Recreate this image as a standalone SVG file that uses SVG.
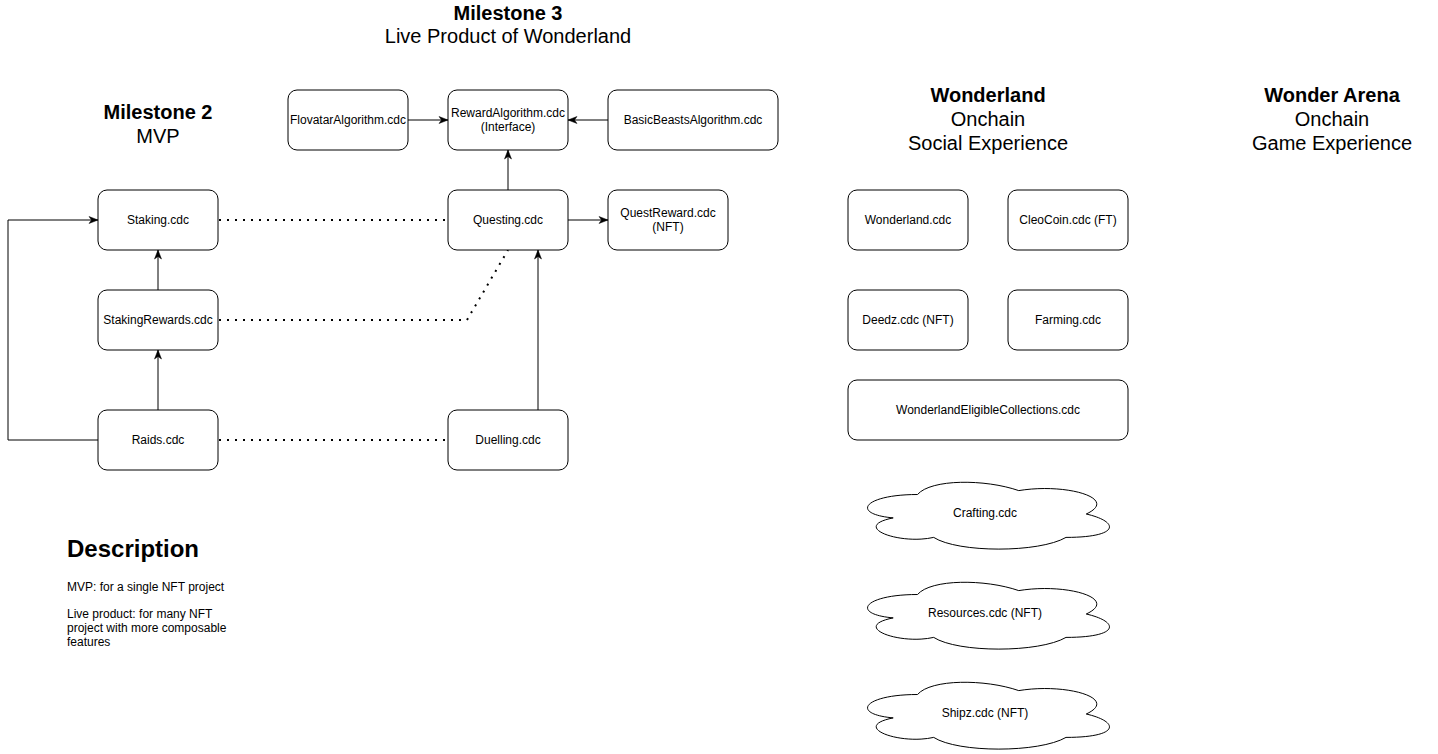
<svg xmlns="http://www.w3.org/2000/svg" xmlns:xlink="http://www.w3.org/1999/xlink" width="1438" height="754" viewBox="0 0 1438 754">
<style>
  .box { fill: #ffffff; stroke: #000000; stroke-width: 1; }
  .t { font-family: "Liberation Sans", Arial, Helvetica, sans-serif; font-size: 12px; fill: #000000; text-anchor: middle; }
  .h { font-family: "Liberation Sans", Arial, Helvetica, sans-serif; font-size: 20px; fill: #000000; text-anchor: middle; }
  .hb { font-weight: bold; }
  .d { font-family: "Liberation Sans", Arial, Helvetica, sans-serif; font-size: 12px; fill: #000000; }
  .arrow { fill: none; stroke: #000000; stroke-width: 1; marker-end: url(#ah); }
  .dot { fill: none; stroke: #000000; stroke-width: 2; stroke-dasharray: 2 6; }
</style>
<defs>
  <marker id="ah" markerUnits="userSpaceOnUse" markerWidth="10" markerHeight="10" viewBox="0 0 10 10" refX="10" refY="5" orient="auto">
    <path d="M1,1.5 L10,5 L1,8.5 L3.5,5 Z" fill="#000000" stroke="#000000" stroke-width="0.5"/>
  </marker>
  <path id="cloud" d="M67.5,19.5 C13.5,19.5 0,39 43.2,42.9 C0,51.48 48.6,70.2 83.7,62.4 C108,78 189,78 216,62.4 C270,62.4 270,46.8 236.25,39 C270,23.4 216,7.8 168.75,15.6 C135,3.9 81,3.9 67.5,19.5 Z" fill="#ffffff" stroke="#000000" stroke-width="1"/>
</defs>
<rect width="1438" height="754" fill="#ffffff"/>

<g id="titles">
  <text class="h hb" x="508" y="20">Milestone 3</text>
  <text class="h" x="508" y="43">Live Product of Wonderland</text>
  <text class="h hb" x="158" y="119">Milestone 2</text>
  <text class="h" x="158" y="143">MVP</text>
  <text class="h hb" x="988" y="102">Wonderland</text>
  <text class="h" x="988" y="126">Onchain</text>
  <text class="h" x="988" y="150">Social Experience</text>
  <text class="h hb" x="1332" y="102">Wonder Arena</text>
  <text class="h" x="1332" y="126">Onchain</text>
  <text class="h" x="1332" y="150">Game Experience</text>
</g>

<g id="connectors">
  <line class="arrow" x1="408" y1="120" x2="448" y2="120"/>
  <line class="arrow" x1="608" y1="120" x2="568" y2="120"/>
  <line class="arrow" x1="508" y1="190" x2="508" y2="150"/>
  <line class="arrow" x1="568" y1="220" x2="608" y2="220"/>
  <line class="arrow" x1="538" y1="410" x2="538" y2="250"/>
  <line class="arrow" x1="158" y1="290" x2="158" y2="250"/>
  <line class="arrow" x1="158" y1="410" x2="158" y2="350"/>
  <polyline class="arrow" points="98,440 8,440 8,220 98,220"/>
  <line class="dot" x1="219" y1="220" x2="448" y2="220"/>
  <polyline class="dot" points="219,320 467,320 508,250"/>
  <line class="dot" x1="219" y1="440" x2="448" y2="440"/>
</g>

<g id="node-flovatar"><rect class="box" x="288" y="90" width="120" height="60" rx="9"/><text class="t" x="348" y="124">FlovatarAlgorithm.cdc</text></g>
<g id="node-reward"><rect class="box" x="448" y="90" width="120" height="60" rx="9"/><text class="t" x="508" y="117">RewardAlgorithm.cdc</text><text class="t" x="508" y="131">(Interface)</text></g>
<g id="node-basicbeasts"><rect class="box" x="608" y="90" width="170" height="60" rx="9"/><text class="t" x="693" y="124">BasicBeastsAlgorithm.cdc</text></g>
<g id="node-staking"><rect class="box" x="98" y="190" width="120" height="60" rx="9"/><text class="t" x="158" y="224">Staking.cdc</text></g>
<g id="node-questing"><rect class="box" x="448" y="190" width="120" height="60" rx="9"/><text class="t" x="508" y="224">Questing.cdc</text></g>
<g id="node-questreward"><rect class="box" x="608" y="190" width="120" height="60" rx="9"/><text class="t" x="668" y="217">QuestReward.cdc</text><text class="t" x="668" y="231">(NFT)</text></g>
<g id="node-stakingrewards"><rect class="box" x="98" y="290" width="120" height="60" rx="9"/><text class="t" x="158" y="324">StakingRewards.cdc</text></g>
<g id="node-raids"><rect class="box" x="98" y="410" width="120" height="60" rx="9"/><text class="t" x="158" y="444">Raids.cdc</text></g>
<g id="node-duelling"><rect class="box" x="448" y="410" width="120" height="60" rx="9"/><text class="t" x="508" y="444">Duelling.cdc</text></g>

<g id="node-wonderland"><rect class="box" x="848" y="190" width="120" height="60" rx="9"/><text class="t" x="908" y="224">Wonderland.cdc</text></g>
<g id="node-cleocoin"><rect class="box" x="1008" y="190" width="120" height="60" rx="9"/><text class="t" x="1068" y="224">CleoCoin.cdc (FT)</text></g>
<g id="node-deedz"><rect class="box" x="848" y="290" width="120" height="60" rx="9"/><text class="t" x="908" y="324">Deedz.cdc (NFT)</text></g>
<g id="node-farming"><rect class="box" x="1008" y="290" width="120" height="60" rx="9"/><text class="t" x="1068" y="324">Farming.cdc</text></g>
<g id="node-eligible"><rect class="box" x="848" y="380" width="280" height="60" rx="9"/><text class="t" x="988" y="414">WonderlandEligibleCollections.cdc</text></g>

<g id="node-crafting"><use xlink:href="#cloud" href="#cloud" transform="translate(850,475)"/><text class="t" x="985" y="517">Crafting.cdc</text></g>
<g id="node-resources"><use xlink:href="#cloud" href="#cloud" transform="translate(850,575)"/><text class="t" x="985" y="617">Resources.cdc (NFT)</text></g>
<g id="node-shipz"><use xlink:href="#cloud" href="#cloud" transform="translate(850,675)"/><text class="t" x="985" y="717">Shipz.cdc (NFT)</text></g>

<g id="description">
  <text x="67" y="557" font-family="Liberation Sans, Arial, sans-serif" font-size="24" font-weight="bold" fill="#000000">Description</text>
  <text class="d" x="67" y="591">MVP: for a single NFT project</text>
  <text class="d" x="67" y="618">Live product: for many NFT</text>
  <text class="d" x="67" y="632">project with more composable</text>
  <text class="d" x="67" y="646">features</text>
</g>
</svg>
